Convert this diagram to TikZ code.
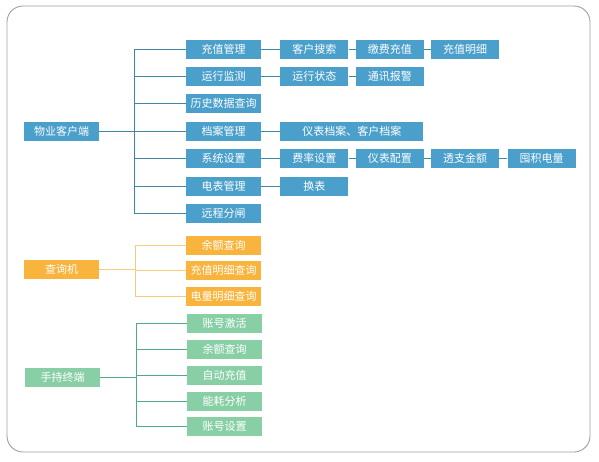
\documentclass[tikz,border=0pt]{standalone}
\usepackage{fontspec}
\setmainfont{Noto Sans CJK SC}
\usepackage{xcolor}
\usepackage{tikz}
\usetikzlibrary{positioning}
\definecolor{wyblue}{HTML}{4A9FCB}
\definecolor{wyline}{HTML}{3E86A3}
\definecolor{cxorange}{HTML}{F8B43C}
\definecolor{cxline}{HTML}{F6CC78}
\definecolor{scgreen}{HTML}{88CFA6}
\definecolor{scline}{HTML}{4FA98A}
\tikzset{
  box/.style={fill=#1, text=white, minimum height=19pt, inner sep=0pt,
    font=\fontsize{11}{12}\selectfont},
  wide/.style={box=#1, minimum width=75pt},
  narrow/.style={box=wyblue, minimum width=68pt},
}

\begin{document}
\begin{tikzpicture}[x=1pt, y=-1pt]
  \useasboundingbox (0,0) rectangle (599,461);
  \draw[gray!75, line width=0.9pt, rounded corners=16pt] (7,6) rectangle (590,452);

  % 物业客户端
  \node[wide=wyblue] (wy) at (61.5,131.5) {物业客户端};
  \coordinate (tka) at (134,0);
  \foreach \y/\n/\t in {49/a1/充值管理, 76/a2/运行监测, 103.5/a3/历史数据查询,
      131/a4/档案管理, 158.5/a5/系统设置, 186/a6/电表管理, 213.5/a7/远程分闸} {
    \node[wide=wyblue] (\n) at (223.5,\y) {\t};
    \draw[wyline, line width=0.9pt] (wy.east) -- (wy.east -| tka) |- (\n.west);
  }
  \node[narrow, right=19pt of a1] (a11) {客户搜索};
  \node[narrow, right=7pt of a11] (a12) {缴费充值};
  \node[narrow, right=7pt of a12] (a13) {充值明细};
  \node[narrow, right=19pt of a2] (a21) {运行状态};
  \node[narrow, right=7pt of a21] (a22) {通讯报警};
  \node[narrow, minimum width=143pt, right=19pt of a4] (a41) {仪表档案、客户档案};
  \node[narrow, right=19pt of a5] (a51) {费率设置};
  \node[narrow, right=7pt of a51] (a52) {仪表配置};
  \node[narrow, right=7pt of a52] (a53) {透支金额};
  \node[narrow, right=8pt of a53] (a54) {囤积电量};
  \node[narrow, right=19pt of a6] (a61) {换表};
  \foreach \p/\q in {a1/a11, a11/a12, a12/a13, a2/a21, a21/a22, a4/a41,
      a5/a51, a51/a52, a52/a53, a53/a54, a6/a61}
    \draw[wyline, line width=0.9pt] (\p.east) -- (\q.west);

  % 查询机
  \node[wide=cxorange] (cx) at (61.5,269.5) {查询机};
  \coordinate (tkb) at (135,0);
  \foreach \y/\n/\t in {245/b1/余额查询, 270/b2/充值明细查询, 296.5/b3/电量明细查询} {
    \node[wide=cxorange] (\n) at (223.5,\y) {\t};
    \draw[cxline, line width=0.9pt] (cx.east) -- (cx.east -| tkb) |- (\n.west);
  }

  % 手持终端
  \node[wide=scgreen] (sc) at (62.5,377.5) {手持终端};
  \coordinate (tkc) at (136,0);
  \foreach \y/\n/\t in {323.5/c1/账号激活, 349/c2/余额查询, 375/c3/自动充值,
      401/c4/能耗分析, 426.5/c5/账号设置} {
    \node[wide=scgreen] (\n) at (224.5,\y) {\t};
    \draw[scline, line width=0.9pt] (sc.east) -- (sc.east -| tkc) |- (\n.west);
  }
\end{tikzpicture}
\end{document}
